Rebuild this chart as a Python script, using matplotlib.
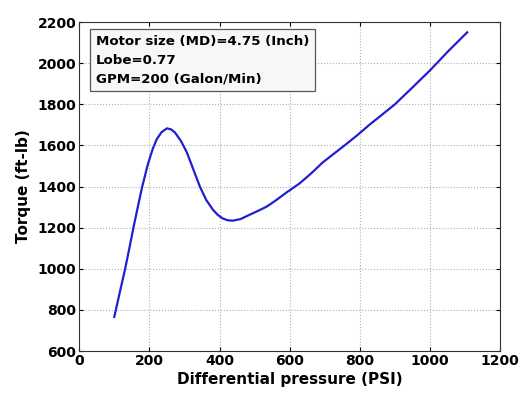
import matplotlib.pyplot as plt

# Torque vs differential pressure for the 4.75" motor
pressure = [100, 115, 131, 143, 154, 167, 179, 196, 210, 221, 235, 250, 262, 273,
            290, 307, 325, 344, 362, 381, 395, 410, 424, 438, 460, 486, 510, 534,
            560, 590, 628, 660, 694, 730, 760, 793, 827, 860, 900, 950, 1000,
            1050, 1106]
torque = [766, 880, 1000, 1100, 1195, 1300, 1395, 1510, 1585, 1630, 1665, 1683, 1678, 1663,
          1622, 1566, 1485, 1400, 1335, 1288, 1262, 1244, 1236, 1234, 1242, 1263, 1282, 1302,
          1332, 1370, 1415, 1462, 1517, 1565, 1605, 1650, 1700, 1745, 1800, 1882, 1965,
          2055, 2150]

x_ticks = [0, 200, 400, 600, 800, 1000, 1200]
y_ticks = [600, 800, 1000, 1200, 1400, 1600, 1800, 2000, 2200]

info = 'Motor size (MD)=4.75 (Inch)\nLobe=0.77\nGPM=200 (Galon/Min)'

plt.rcParams['font.family'] = ['DejaVu Sans']
plt.rcParams['font.weight'] = 'bold'

fig = plt.figure(figsize=(5.21, 3.94), dpi=100)
ax = fig.add_axes([0.152, 0.109, 0.808, 0.835])

ax.plot(pressure, torque, color='#2020d0', linewidth=1.6)

ax.set_xlim(0, 1200)
ax.set_ylim(600, 2200)
ax.set_xticks(x_ticks)
ax.set_yticks(y_ticks)
ax.tick_params(direction='in', top=True, right=True, length=3, labelsize=10, width=0.8, pad=2)
for lab in ax.get_xticklabels() + ax.get_yticklabels():
    lab.set_fontweight('bold')
ax.grid(True, linestyle=':', color='#b0b0b0', linewidth=0.8)
for s in ax.spines.values():
    s.set_color('#333333')
    s.set_linewidth(0.8)

ax.set_xlabel('Differential pressure (PSI)', fontsize=11, fontweight='bold', labelpad=3)
ax.set_ylabel('Torque (ft-lb)', fontsize=11, fontweight='bold', labelpad=5)

ax.text(0.04, 0.96, info, transform=ax.transAxes, fontsize=9.6, fontweight='bold',
        va='top', ha='left', linespacing=1.55,
        bbox=dict(boxstyle='square,pad=0.45', facecolor='#f7f7f7', edgecolor='#555555',
                  linewidth=0.9))

fig.savefig('out.png', dpi=100)
